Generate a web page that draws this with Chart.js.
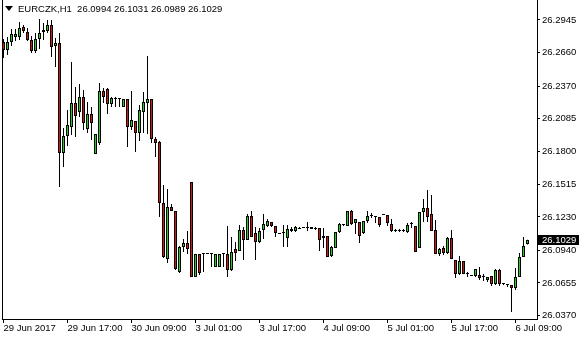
<!DOCTYPE html>
<html lang="en">
<head>
<meta charset="UTF-8"/>
<title>EURCZK,H1</title>
<script src="https://cdn.jsdelivr.net/npm/chart.js"></script>
<style>
  html, body { margin: 0; padding: 0; background: #fff; }
  #wrap { position: relative; width: 580px; height: 340px; }
  #header { position: absolute; left: 5px; top: 3px; font: 9.5px 'Liberation Sans', Arial, sans-serif; color: #000; white-space: pre; line-height: 12px; }
  .tri { display: inline-block; width: 0; height: 0; border-left: 4px solid transparent; border-right: 4px solid transparent; border-top: 5px solid #000; margin-right: 5px; vertical-align: 1px; }
</style>
</head>
<body>
<div id="wrap">
  <canvas id="grafico" width="580" height="340"></canvas>
  <div id="header"><span class="tri"></span><span id="headerText"></span></div>
</div>

<script>
// EURCZK H1, one value per bar (132 bars)
const symbol = 'EURCZK,H1';

const opens = [
  26.2753, 26.2684, 26.2753, 26.2797, 26.2797, 26.2884, 26.2840, 26.2771, 26.2675, 26.2780,
  26.2840, 26.2849, 26.2901, 26.2719, 26.2745, 26.1787, 26.1935, 26.2013, 26.2222, 26.2144,
  26.2274, 26.1996, 26.2126, 26.1778, 26.1874, 26.2327, 26.2344, 26.2213, 26.2260, 26.2257,
  26.2187, 26.2257, 26.2013, 26.2065, 26.1961, 26.2144, 26.2222, 26.2257, 26.1909, 26.1882,
  26.1351, 26.0863, 26.1316, 26.1281, 26.0750, 26.0968, 26.1003, 26.1534, 26.0707, 26.0907,
  26.0907, 26.0907, 26.0907, 26.0794, 26.0794, 26.0907, 26.0907, 26.0768, 26.0950, 26.0933,
  26.1116, 26.1029, 26.1238, 26.1090, 26.1011, 26.1116, 26.1151, 26.1186, 26.1151, 26.1090,
  26.1098, 26.1047, 26.1107, 26.1107, 26.1125, 26.1133, 26.1133, 26.1142, 26.1125, 26.1133,
  26.1064, 26.1064, 26.0889, 26.0959, 26.1098, 26.1168, 26.1151, 26.1281, 26.1177, 26.1186,
  26.1090, 26.1194, 26.1238, 26.1238, 26.1229, 26.1247, 26.1247, 26.1168, 26.1116, 26.1107,
  26.1107, 26.1098, 26.1168, 26.1151, 26.0959, 26.1273, 26.1308, 26.1255, 26.1116, 26.0907,
  26.0959, 26.0916, 26.1047, 26.0855, 26.0733, 26.0846, 26.0733, 26.0715, 26.0715, 26.0724,
  26.0707, 26.0680, 26.0715, 26.0646, 26.0768, 26.0646, 26.0637, 26.0637, 26.0611, 26.0707,
  26.0881, 26.0994
];
const highs = [
  26.2780, 26.2797, 26.2867, 26.2867, 26.2928, 26.2901, 26.2875, 26.2806, 26.2832, 26.2954,
  26.2919, 26.2945, 26.2945, 26.2788, 26.2832, 26.2004, 26.2161, 26.2579, 26.2361, 26.2388,
  26.2335, 26.2231, 26.2187, 26.1952, 26.2396, 26.2353, 26.2353, 26.2274, 26.2274, 26.2257,
  26.2257, 26.2257, 26.2327, 26.2065, 26.2205, 26.2318, 26.2631, 26.2257, 26.1926, 26.1891,
  26.1508, 26.1473, 26.1342, 26.1281, 26.0977, 26.1038, 26.1107, 26.1534, 26.0907, 26.0907,
  26.0907, 26.0907, 26.0907, 26.0907, 26.0907, 26.0907, 26.1151, 26.1055, 26.1011, 26.1160,
  26.1142, 26.1255, 26.1281, 26.1142, 26.1133, 26.1255, 26.1212, 26.1186, 26.1151, 26.1090,
  26.1160, 26.1160, 26.1142, 26.1151, 26.1142, 26.1133, 26.1186, 26.1142, 26.1142, 26.1133,
  26.1133, 26.1064, 26.0977, 26.1098, 26.1177, 26.1168, 26.1281, 26.1290, 26.1212, 26.1186,
  26.1194, 26.1281, 26.1264, 26.1238, 26.1229, 26.1247, 26.1247, 26.1212, 26.1125, 26.1125,
  26.1125, 26.1177, 26.1186, 26.1151, 26.1273, 26.1386, 26.1464, 26.1421, 26.1203, 26.0959,
  26.0977, 26.1055, 26.1116, 26.0855, 26.0889, 26.0846, 26.0750, 26.0715, 26.0776, 26.0794,
  26.0733, 26.0707, 26.0715, 26.0776, 26.0776, 26.0654, 26.0646, 26.0637, 26.0785, 26.0916,
  26.1055, 26.1031
];
const lows = [
  26.2614, 26.2640, 26.2719, 26.2762, 26.2771, 26.2832, 26.2762, 26.2658, 26.2658, 26.2692,
  26.2771, 26.2832, 26.2623, 26.2536, 26.1490, 26.1665, 26.1848, 26.1943, 26.1926, 26.2100,
  26.1987, 26.1961, 26.1900, 26.1778, 26.1856, 26.2222, 26.2126, 26.2187, 26.2187, 26.2187,
  26.2187, 26.1839, 26.1987, 26.1795, 26.1891, 26.1961, 26.1952, 26.1874, 26.1752, 26.1229,
  26.0872, 26.0829, 26.1281, 26.0768, 26.0741, 26.0924, 26.0907, 26.0707, 26.0707, 26.0724,
  26.0750, 26.0907, 26.0794, 26.0794, 26.0794, 26.0794, 26.0707, 26.0759, 26.0846, 26.0933,
  26.0855, 26.1029, 26.1055, 26.0855, 26.1003, 26.1038, 26.1142, 26.1142, 26.1055, 26.1081,
  26.0968, 26.0968, 26.1098, 26.1098, 26.1125, 26.1133, 26.1107, 26.1125, 26.1116, 26.0933,
  26.0959, 26.0881, 26.0881, 26.0959, 26.1090, 26.1151, 26.1151, 26.1160, 26.1081, 26.1003,
  26.1081, 26.1177, 26.1220, 26.1177, 26.1142, 26.1247, 26.1151, 26.1098, 26.1098, 26.1098,
  26.1098, 26.1090, 26.1133, 26.0924, 26.0959, 26.1186, 26.1186, 26.1107, 26.0907, 26.0889,
  26.0898, 26.0907, 26.0863, 26.0698, 26.0724, 26.0733, 26.0707, 26.0715, 26.0707, 26.0680,
  26.0672, 26.0663, 26.0628, 26.0637, 26.0628, 26.0637, 26.0620, 26.0402, 26.0594, 26.0707,
  26.0881, 26.0989
];
const closes = [
  26.2684, 26.2753, 26.2823, 26.2823, 26.2875, 26.2849, 26.2771, 26.2675, 26.2780, 26.2832,
  26.2858, 26.2901, 26.2710, 26.2745, 26.1787, 26.1935, 26.2030, 26.2222, 26.2109, 26.2274,
  26.2048, 26.2126, 26.2048, 26.1952, 26.2327, 26.2274, 26.2213, 26.2266, 26.2257, 26.2257,
  26.2257, 26.2013, 26.2074, 26.1961, 26.2161, 26.2231, 26.2257, 26.1909, 26.1874, 26.1351,
  26.0881, 26.1316, 26.1281, 26.0776, 26.0968, 26.1003, 26.0950, 26.0707, 26.0907, 26.0741,
  26.0907, 26.0907, 26.0907, 26.0907, 26.0907, 26.0907, 26.0768, 26.0924, 26.0916, 26.1116,
  26.1029, 26.1238, 26.1055, 26.1011, 26.1107, 26.1168, 26.1194, 26.1151, 26.1090, 26.1081,
  26.1090, 26.1125, 26.1125, 26.1142, 26.1133, 26.1133, 26.1133, 26.1125, 26.1133, 26.1029,
  26.1047, 26.0881, 26.0968, 26.1098, 26.1168, 26.1160, 26.1281, 26.1168, 26.1212, 26.1064,
  26.1194, 26.1238, 26.1247, 26.1229, 26.1160, 26.1247, 26.1177, 26.1107, 26.1107, 26.1107,
  26.1107, 26.1160, 26.1168, 26.0924, 26.1273, 26.1308, 26.1229, 26.1107, 26.0907, 26.0950,
  26.0916, 26.1047, 26.0863, 26.0733, 26.0846, 26.0733, 26.0733, 26.0715, 26.0776, 26.0698,
  26.0707, 26.0707, 26.0646, 26.0768, 26.0646, 26.0646, 26.0637, 26.0611, 26.0707, 26.0881,
  26.0977, 26.1029
];

// time axis: label every 16 bars
const xTickBars = [0, 16, 32, 48, 64, 80, 96, 112, 128];
const xLabels = ['29 Jun 2017', '29 Jun 17:00', '30 Jun 09:00', '3 Jul 01:00', '3 Jul 17:00',
                 '4 Jul 09:00', '5 Jul 01:00', '5 Jul 17:00', '6 Jul 09:00'];

// price axis
const yTicks = [26.0370, 26.0655, 26.0940, 26.1230, 26.1515, 26.1800, 26.2085, 26.2370, 26.2660, 26.2945];
const yMin = 26.03405;
const yMax = 26.31192;

const FONT = "'Liberation Sans', Arial, sans-serif";
const BULL = '#1ed31e';
const BEAR = '#d51515';

const last = closes.length - 1;
document.getElementById('headerText').textContent =
  symbol + '  ' + [opens[last], highs[last], lows[last], closes[last]].map(v => v.toFixed(4)).join(' ');

// left frame line + last price box
const frame = {
  id: 'frame',
  afterDraw(chart) {
    const ctx = chart.ctx;
    const area = chart.chartArea;
    ctx.save();
    ctx.fillStyle = '#000';
    ctx.fillRect(area.left, area.top, 1, area.bottom - area.top + 1);

    const yPix = Math.round(chart.scales.y.getPixelForValue(closes[last]));
    ctx.fillRect(area.right + 1, yPix - 5, 41, 10);
    ctx.fillStyle = '#fff';
    ctx.font = '9.5px ' + FONT;
    ctx.textBaseline = 'middle';
    ctx.fillText(closes[last].toFixed(4), area.right + 5, yPix + 0.5);
    ctx.restore();
  }
};

const ctx = document.getElementById('grafico').getContext('2d');
new Chart(ctx, {
  type: 'bar',
  data: {
    datasets: [
      {
        label: 'body',
        data: opens.map((o, i) => ({ x: i, y: [o, closes[i]] })),
        backgroundColor: opens.map((o, i) => closes[i] >= o ? BULL : BEAR),
        borderColor: '#000',
        borderWidth: 1,
        borderSkipped: false,
        barThickness: 3,
        minBarLength: 1,
        grouped: false,
        inflateAmount: 0
      },
      {
        label: 'wick',
        data: lows.map((l, i) => ({ x: i, y: [l, highs[i]] })),
        backgroundColor: '#000',
        borderWidth: 0,
        barThickness: 1,
        grouped: false,
        inflateAmount: 0
      }
    ]
  },
  options: {
    responsive: false,
    animation: false,
    layout: { padding: { left: 2, top: 0, right: 0, bottom: 0 } },
    plugins: {
      legend: { display: false },
      tooltip: { enabled: false }
    },
    scales: {
      x: {
        type: 'linear',
        bounds: 'data',
        min: -0.375,
        max: 133.375,
        offset: false,
        grid: { offset: false, drawOnChartArea: false, tickLength: 4, color: '#000' },
        border: { color: '#000' },
        ticks: {
          autoSkip: false,
          maxRotation: 0,
          align: 'start',
          padding: 0,
          color: '#000',
          font: { family: FONT, size: 9.5 },
          callback: (v, i) => xLabels[i]
        },
        afterBuildTicks: s => { s.ticks = xTickBars.map(v => ({ value: v })); },
        afterFit: s => { s.height = 21; s.paddingLeft = 0; s.paddingRight = 0; }
      },
      y: {
        position: 'right',
        bounds: 'data',
        min: yMin,
        max: yMax,
        grid: { drawOnChartArea: false, tickLength: 3, color: '#000' },
        border: { color: '#000' },
        ticks: {
          padding: 2,
          color: '#000',
          font: { family: FONT, size: 9.5 },
          callback: v => v.toFixed(4)
        },
        afterBuildTicks: s => { s.ticks = yTicks.map(v => ({ value: v })); },
        afterFit: s => { s.width = 43; s.paddingTop = 0; s.paddingBottom = 0; }
      }
    }
  },
  plugins: [frame]
});
</script>
</body>
</html>
